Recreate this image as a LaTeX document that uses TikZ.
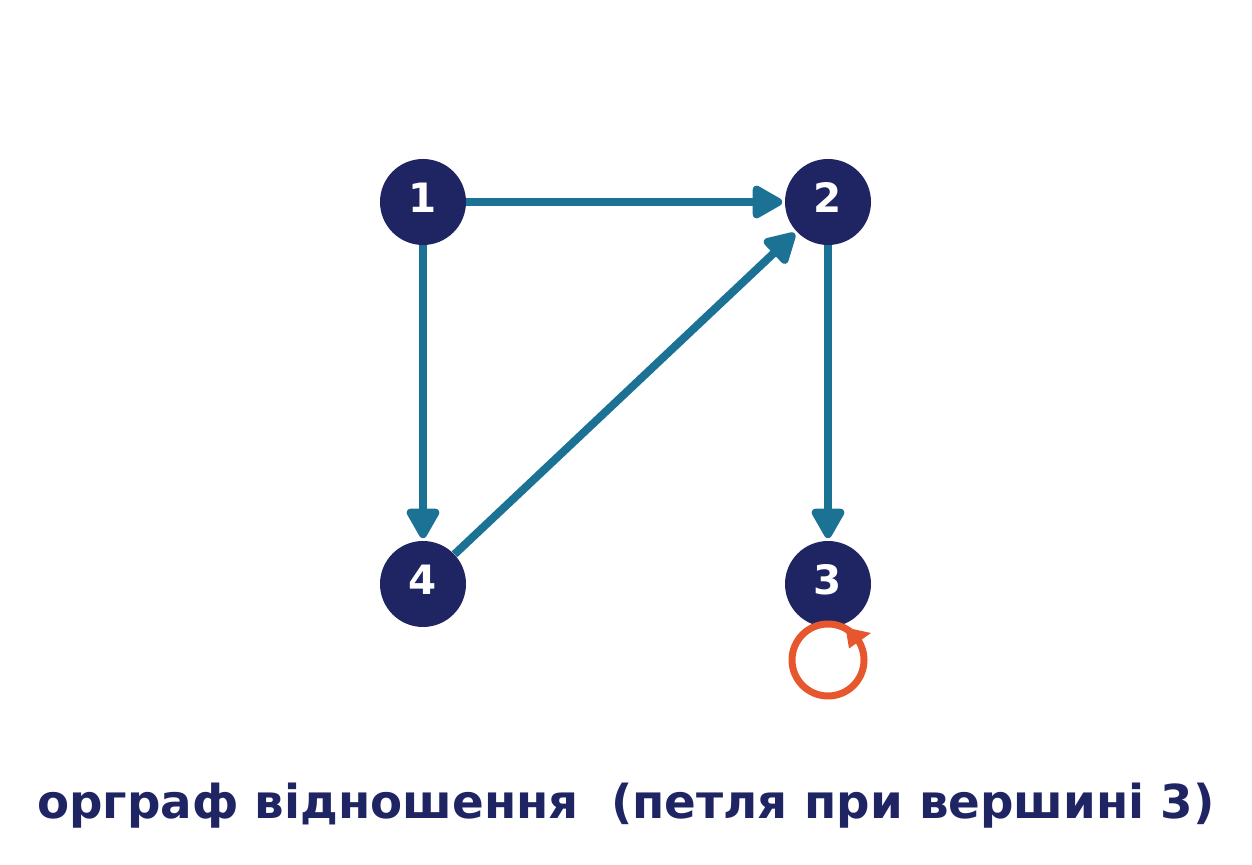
\documentclass[tikz,border=0pt]{standalone}
\usepackage{fontspec}
\setmainfont{DejaVu Sans}
\usetikzlibrary{calc,positioning,arrows.meta}
\definecolor{navy}{RGB}{31,36,98}
\definecolor{teal}{RGB}{28,114,148}
\definecolor{rust}{RGB}{230,87,45}
\begin{document}
\begin{tikzpicture}[
    vertex/.style={circle,fill=navy,text=white,minimum size=1.72cm,inner sep=0pt,text depth=0.18cm,font=\fontsize{23}{23}\selectfont\bfseries},
    arc/.style={draw=teal,line width=0.16cm,-{Triangle[round,length=0.68cm,width=0.72cm]},shorten >=0.05cm},
    selfloop/.style={draw=rust,line width=0.14cm}]
    \useasboundingbox (0,0) rectangle (25.04,17.3);
    \node[vertex] (v1) at (8.46,13.26) {1};
    \node[vertex] (v2) at (16.56,13.26) {2};
    \node[vertex] (v4) at (8.46,5.62) {4};
    \node[vertex] (v3) at (16.56,5.62) {3};
    \draw[arc] (v1) -- (v2);
    \draw[arc] (v1) -- (v4);
    \draw[arc] (v4) -- (v2);
    \draw[arc] (v2) -- (v3);
    % петля при вершині 3
    \coordinate (loopc) at ($(v3.center)+(0,-1.52)$);
    \draw[selfloop] (loopc) circle (0.72);
    \fill[rust] ($(loopc)+(0.35,0.65)$) -- ($(loopc)+(0.86,0.54)$) -- ($(loopc)+(0.42,0.23)$) -- cycle;
    \node[anchor=base,text=navy,font=\fontsize{26.6}{26.6}\selectfont\bfseries] (title) at (12.52,0.92) {орграф відношення~~(петля при вершині 3)};
\end{tikzpicture}
\end{document}
